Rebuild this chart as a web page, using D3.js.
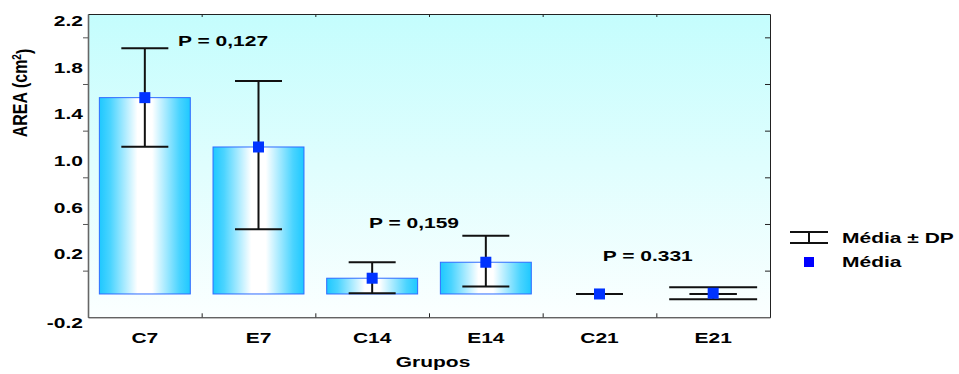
<!DOCTYPE html>
<html><head><meta charset="utf-8">
<script src="https://cdn.jsdelivr.net/npm/d3@7"></script>
<style>
body{margin:0;background:#fff}
svg{display:block}
text{font-family:"Liberation Sans",Arial,sans-serif;font-weight:bold;font-size:15px;fill:#000}
</style>
</head><body><script>
const categories = ["C7","E7","C14","E14","C21","E21"];
const means   = [1.683, 1.260, 0.135, 0.272, 0.000, 0.006];
const upperSD = [2.106, 1.826, 0.272, 0.500, 0.000, 0.000];
const lowerSD = [1.263, 0.555, 0.006, 0.063, 0.000, 0.000];
const outerHigh = [null, null, null, null, null, 0.057];
const outerLow  = [null, null, null, null, null, -0.045];
const yTickValues = [0.2, 0.6, 1.0, 1.4, 1.8, 2.2];
const yTickLabels = ["0.2", "0.6", "1.0", "1.4", "1.8", "2.2"];
const yMinLabel = "-0.2";
const pLabels = ["P = 0,127", "P = 0,159", "P = 0.331"];
const pBandPos = [0.792, 2.472, 4.528];
const pValues = [2.168, 0.614, 0.328];
const legendLabels = ["Média ± DP", "Média"];

const W = 959, H = 374, SX = 1.4;
const L = 88, R = 770, T = 14, B = 317.3;

const svg = d3.select("body").append("svg").attr("width", W).attr("height", H);
const defs = svg.append("defs");
const bg = defs.append("linearGradient").attr("id","bg").attr("x1",0).attr("y1",0).attr("x2",0).attr("y2",1);
bg.append("stop").attr("offset","0").attr("stop-color","#c4fdfd");
bg.append("stop").attr("offset","1").attr("stop-color","#fbffff");
const bar = defs.append("linearGradient").attr("id","bar").attr("x1",0).attr("y1",0).attr("x2",1).attr("y2",0);
[[0,"#1ec8ff"],[0.12,"#4ad4ff"],[0.42,"#ffffff"],[0.58,"#ffffff"],[0.88,"#4ad4ff"],[1,"#1ec8ff"]]
  .forEach(([o,c]) => bar.append("stop").attr("offset",o).attr("stop-color",c));

const y = d3.scaleLinear().domain([-0.2, 2.4]).range([B, T]);
const x = d3.scaleBand().domain(categories).range([L, R]).paddingInner(0.2).paddingOuter(0.1);
const xi = d3.scaleLinear().domain([0, categories.length]).range([L, R]);

svg.append("rect").attr("x",L).attr("y",T).attr("width",R-L).attr("height",B-T).attr("fill","url(#bg)");

function stretched(g, tx, ty, str, anchor){
  return g.append("text").attr("transform",`translate(${tx},${ty}) scale(${SX},1)`)
    .attr("text-anchor",anchor).attr("dy","0.35em").text(str);
}

// bars
const data = categories.map((c,i)=>({c, m:means[i], hi:upperSD[i], lo:lowerSD[i], oh:outerHigh[i], ol:outerLow[i]}));
svg.selectAll("rect.bar").data(data.filter(d => Math.abs(y(0)-y(d.m)) >= 1)).join("rect")
  .attr("class","bar")
  .attr("x", d => x(d.c)).attr("width", x.bandwidth())
  .attr("y", d => y(d.m)).attr("height", d => y(0) - y(d.m))
  .attr("fill","url(#bar)").attr("stroke","#2f6bff").attr("stroke-width",1);

// error bars
const capW = 47;
const eg = svg.append("g").attr("stroke","#111").attr("stroke-width",2);
data.forEach(d => {
  const cx = x(d.c) + x.bandwidth()/2;
  eg.append("line").attr("x1",cx).attr("x2",cx).attr("y1",y(d.hi)).attr("y2",y(d.lo));
  eg.append("line").attr("x1",cx-capW/2).attr("x2",cx+capW/2).attr("y1",y(d.hi)).attr("y2",y(d.hi));
  eg.append("line").attr("x1",cx-capW/2).attr("x2",cx+capW/2).attr("y1",y(d.lo)).attr("y2",y(d.lo));
  if (d.oh != null) {
    const ow = x.bandwidth() - 3;
    eg.append("line").attr("x1",cx).attr("x2",cx).attr("y1",y(d.oh)).attr("y2",y(d.ol));
    eg.append("line").attr("x1",cx-ow/2).attr("x2",cx+ow/2).attr("y1",y(d.oh)).attr("y2",y(d.oh));
    eg.append("line").attr("x1",cx-ow/2).attr("x2",cx+ow/2).attr("y1",y(d.ol)).attr("y2",y(d.ol));
  }
});

// markers
const ms = 11;
svg.selectAll("rect.mk").data(data).join("rect").attr("class","mk")
  .attr("x", d => x(d.c) + x.bandwidth()/2 - ms/2).attr("y", d => y(d.m) - ms/2)
  .attr("width", ms).attr("height", ms).attr("fill","#0033ff");

// frame + axes ticks
const axStyle = g => g.selectAll("line,path").attr("stroke","#222");
svg.append("g").attr("transform",`translate(${L},0)`)
  .call(d3.axisLeft(y).tickValues(yTickValues).tickSize(5).tickFormat("").tickSizeOuter(0))
  .call(g => g.selectAll("line").attr("stroke","#555"))
  .call(g => g.select(".domain").attr("stroke","#666").attr("stroke-width",1.6));
svg.append("g").attr("transform",`translate(${R},0)`)
  .call(d3.axisLeft(y).tickValues(yTickValues).tickSize(5).tickFormat("").tickSizeOuter(0)).call(axStyle);
svg.append("g").attr("transform",`translate(0,${B})`)
  .call(d3.axisTop(xi).tickValues(d3.range(1,categories.length)).tickSize(4).tickFormat("").tickSizeOuter(0)).call(axStyle);
svg.append("g").attr("transform",`translate(0,${T})`)
  .call(d3.axisBottom(xi).tickValues(d3.range(1,categories.length)).tickSize(3).tickFormat("").tickSizeOuter(0)).call(axStyle);

// y tick labels
const yl = svg.append("g");
yTickValues.forEach((v,i) => stretched(yl, 83, y(v) - 16.5, yTickLabels[i], "end"));
stretched(yl, 83, y(-0.2) + 5.5, yMinLabel, "end");

// x labels
const xl = svg.append("g");
categories.forEach(c => stretched(xl, x(c) + x.bandwidth()/2, 338, c, "middle"));
stretched(svg, (L+R)/2 + 4, 362, "Grupos", "middle");

// y title
const yt = svg.append("text").attr("transform",`translate(20,93) scale(1.3,1) rotate(-90)`)
  .attr("text-anchor","middle").attr("dy","0.35em").style("font-size","16px");
yt.append("tspan").text("AREA (cm");
yt.append("tspan").attr("dy","-0.45em").attr("font-size","10px").text("2");
yt.append("tspan").attr("dy","0.45em").text(")");

// P annotations
pLabels.forEach((p,i) => stretched(svg, xi(pBandPos[i]), y(pValues[i]), p, "start"));

// legend
const lg = svg.append("g");
const lx = 790, lw = 38;
lg.append("g").attr("stroke","#111").attr("stroke-width",2).call(g => {
  g.append("line").attr("x1",lx).attr("x2",lx+lw).attr("y1",232).attr("y2",232);
  g.append("line").attr("x1",lx).attr("x2",lx+lw).attr("y1",243).attr("y2",243);
  g.append("line").attr("x1",lx+lw/2).attr("x2",lx+lw/2).attr("y1",232).attr("y2",243);
});
stretched(lg, 842, 238, legendLabels[0], "start");
lg.append("rect").attr("x",lx+lw/2-5).attr("y",257).attr("width",10).attr("height",10).attr("fill","#0000ff");
stretched(lg, 842, 262, legendLabels[1], "start");
</script></body></html>
